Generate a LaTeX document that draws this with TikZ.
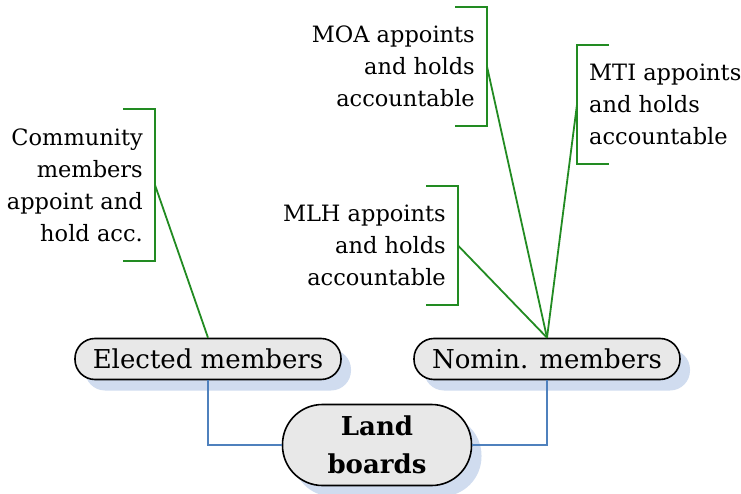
\documentclass[tikz,border=0pt]{standalone}
\usepackage{fontspec}
\setmainfont{DejaVu Serif}
\usetikzlibrary{shadows}
\definecolor{boxgray}{RGB}{232,232,232}
\definecolor{shadowblue}{RGB}{208,220,239}
\definecolor{linkblue}{RGB}{79,129,189}
\definecolor{linkgreen}{RGB}{34,139,34}

\begin{document}
\begin{tikzpicture}[x = 1pt, y = -1pt,
  board/.style = {draw, line width = 1.6pt, fill = boxgray, shape = rectangle, inner sep = 0pt,
    font = \fontsize{26}{38}\selectfont,
    drop shadow = {shadow xshift = 10pt, shadow yshift = -11pt, fill = shadowblue, opacity = 1}},
  member/.style = {board, rounded corners = 20pt, minimum width = 266pt, minimum height = 41pt},
  note/.style = {font = \fontsize{22.5}{32}\selectfont, inner xsep = 12pt, inner ysep = 19pt},
  bracket/.style = {draw = linkgreen, line width = 1.8pt},
  link/.style = {draw = linkblue, line width = 1.5pt}]
\useasboundingbox (0,0) rectangle (741,494);

\node[board, rounded corners = 40pt, minimum width = 189pt, minimum height = 81pt, align = center,
  font = \fontsize{26}{38}\selectfont\bfseries] (1) at (377,445) {Land\\boards};
\node[member] (2) at (208,359) {Elected members};
\node[member] (3) at (547,359) {Nomin. members};

\node[note, anchor = east, align = right] (4) at (155,185) {Community\\members\\appoint and\\hold acc.};
\node[note, anchor = east, align = right] (5) at (458,245.5) {MLH appoints\\and holds\\accountable};
\node[note, anchor = east, align = right] (6) at (487,66.5) {MOA appoints\\and holds\\accountable};
\node[note, anchor = west, align = left] (7) at (577,104.5) {MTI appoints\\and holds\\accountable};

\draw[link] (2.south) |- (1.west);
\draw[link] (3.south) |- (1.east);

\draw[bracket] ([xshift = -32pt]4.north east) -- (4.north east) -- (4.south east) -- ([xshift = -32pt]4.south east);
\draw[bracket] ([xshift = -32pt]5.north east) -- (5.north east) -- (5.south east) -- ([xshift = -32pt]5.south east);
\draw[bracket] ([xshift = -32pt]6.north east) -- (6.north east) -- (6.south east) -- ([xshift = -32pt]6.south east);
\draw[bracket] ([xshift = 32pt]7.north west) -- (7.north west) -- (7.south west) -- ([xshift = 32pt]7.south west);

\draw[bracket] (4.east) -- (2.north);
\draw[bracket] (5.east) -- (3.north);
\draw[bracket] (6.east) -- (3.north);
\draw[bracket] (7.west) -- (3.north);
\end{tikzpicture}
\end{document}
